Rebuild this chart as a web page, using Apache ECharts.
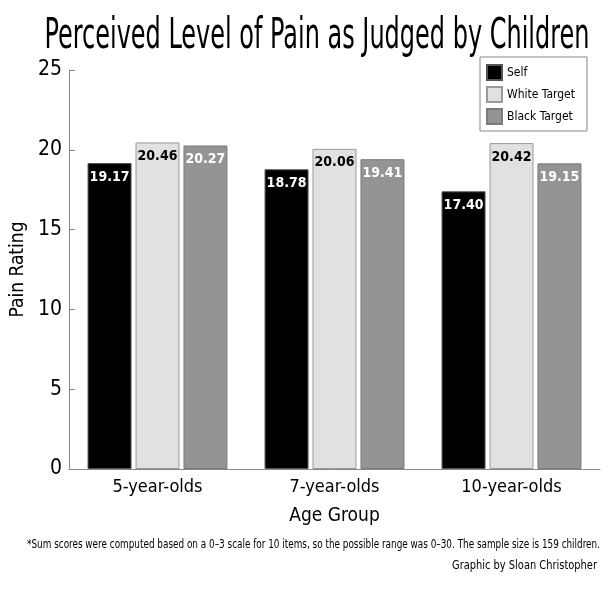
<!DOCTYPE html>
<html><head><meta charset="utf-8">
<script src="https://cdn.jsdelivr.net/npm/echarts@6/dist/echarts.min.js"></script>
<style>html,body{margin:0;padding:0;background:#fff}#c{width:611px;height:593px}</style>
</head><body><div id="c"></div>
<script>
const categories = ['5-year-olds', '7-year-olds', '10-year-olds'];
const selfValues = [19.17, 18.78, 17.40];
const whiteValues = [20.46, 20.06, 20.42];
const blackValues = [20.27, 19.41, 19.15];
const seriesNames = ['Self', 'White Target', 'Black Target'];
const yTicks = [0, 5, 10, 15, 20, 25];
const titleText = 'Perceived Level of Pain as Judged by Children';
const noteText = '*Sum scores were computed based on a 0–3 scale for 10 items, so the possible range was 0–30. The sample size is 159 children.';
const creditText = 'Graphic by Sloan Christopher';

const FF = "'DejaVu Sans Condensed', 'DejaVu Sans', sans-serif";
const cv = document.createElement('canvas').getContext('2d');
function measure(text, size, weight) {
  cv.font = (weight || 'normal') + ' ' + size + 'px ' + FF;
  return cv.measureText(text).width;
}
// squeeze text horizontally to mimic the condensed typeface of the original
function squeezed(text, size, cx, cy, targetW, align) {
  const w = measure(text, size);
  const sx = targetW / w;
  return {
    type: 'text', x: cx, y: cy, scaleX: sx, scaleY: 1, originX: 0, originY: 0,
    style: { text: text, fontFamily: FF, fontSize: size, fill: '#000', align: align, verticalAlign: 'middle' }
  };
}
const chart = echarts.init(document.getElementById('c'));
function lbl(color) {
  return { show: true, position: 'insideTop', distance: 7, color: color, fontFamily: FF, fontSize: 14, fontWeight: 'bold', formatter: p => p.value.toFixed(2) };
}
chart.setOption({
  animation: false,
  graphic: [
    squeezed(titleText, 42, 317, 37, 545, 'center'),
    squeezed(noteText, 13, 600, 545, 573, 'right'),
    squeezed(creditText, 13, 597, 566, 145, 'right')
  ],
  legend: {
    orient: 'vertical', left: 480, top: 57,
    padding: [7, 12, 6, 6], itemGap: 5, itemWidth: 15, itemHeight: 15,
    borderColor: '#888', borderWidth: 1,
    textStyle: { fontFamily: FF, fontSize: 12, color: '#000' },
    data: seriesNames.map(n => ({ name: n, icon: 'rect' }))
  },
  grid: { left: 69, right: 11, top: 70, bottom: 124, outerBoundsMode: 'none', containLabel: false },
  xAxis: {
    type: 'category', data: categories,
    name: 'Age Group', nameLocation: 'middle', nameGap: 38,
    nameTextStyle: { fontFamily: FF, fontSize: 19, color: '#000' },
    axisLine: { lineStyle: { color: '#888' } },
    axisTick: { inside: true, length: 6, lineStyle: { color: '#888' } },
    axisLabel: { fontFamily: FF, fontSize: 18, color: '#000', margin: 9 }
  },
  yAxis: {
    type: 'value', min: 0, max: 25, interval: 5,
    name: 'Pain Rating', nameLocation: 'middle', nameGap: 40,
    nameTextStyle: { fontFamily: FF, fontSize: 19, color: '#000' },
    axisLine: { show: true, lineStyle: { color: '#888' } },
    axisTick: { show: true, inside: true, length: 6, lineStyle: { color: '#888' } },
    splitLine: { show: false },
    axisLabel: { fontFamily: FF, fontSize: 21, color: '#000', margin: 7, formatter: v => yTicks.includes(v) ? String(v) : '' }
  },
  series: [
    { name: seriesNames[0], type: 'bar', data: selfValues, barWidth: 44, barGap: '9%', barCategoryGap: '22%',
      itemStyle: { color: '#000000', borderColor: '#555', borderWidth: 1 }, label: lbl('#fff') },
    { name: seriesNames[1], type: 'bar', data: whiteValues, barWidth: 44,
      itemStyle: { color: '#e0e1e3', borderColor: '#999', borderWidth: 1 }, label: lbl('#000') },
    { name: seriesNames[2], type: 'bar', data: blackValues, barWidth: 44,
      itemStyle: { color: '#939496', borderColor: '#7a7b7d', borderWidth: 1 }, label: lbl('#fff') }
  ]
});
</script></body></html>
